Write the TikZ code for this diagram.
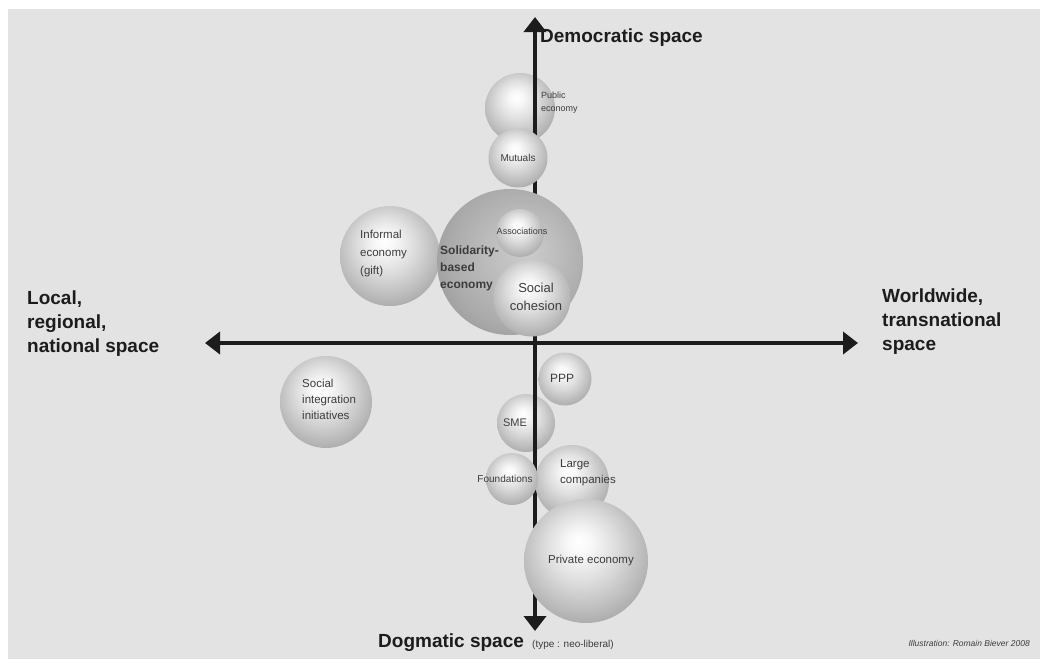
\documentclass[tikz,border=0pt]{standalone}
\usepackage{fontspec}
\setmainfont{Liberation Sans}
\usetikzlibrary{arrows.meta}

% light glossy sphere and the darker sphere for the solidarity-based economy
\pgfdeclareradialshading{orb}{\pgfpoint{-3bp}{8bp}}{%
  rgb(0bp)=(1,1,1); rgb(5bp)=(.97,.97,.97); rgb(14bp)=(.87,.87,.87);
  rgb(24bp)=(.74,.74,.74); rgb(33bp)=(.62,.62,.62); rgb(50bp)=(.60,.60,.60)}
\pgfdeclareradialshading{darkorb}{\pgfpoint{6bp}{4bp}}{%
  rgb(0bp)=(.80,.80,.80); rgb(12bp)=(.74,.74,.74); rgb(24bp)=(.67,.67,.67);
  rgb(32bp)=(.60,.60,.60); rgb(50bp)=(.58,.58,.58)}

\definecolor{panel}{RGB}{227,227,227}
\definecolor{ink}{RGB}{28,28,28}
\definecolor{soft}{RGB}{60,60,60}

\tikzset{
  sphere/.style={circle, inner sep=0pt, shade, shading=orb, minimum size=#1},
  darksphere/.style={circle, inner sep=0pt, shade, shading=darkorb, minimum size=#1},
  axis/.style={line width=4pt, ink, {Triangle[length=15pt,width=22pt]}-{Triangle[length=15pt,width=22pt]}},
  axislabel/.style={font=\bfseries\fontsize{19}{24}\selectfont, text=ink, inner sep=0pt, align=left},
  lbl/.style 2 args={font=\fontsize{#1}{#2}\selectfont, text=soft, inner sep=0pt, align=left},
  blbl/.style 2 args={font=\bfseries\fontsize{#1}{#2}\selectfont, text=soft, inner sep=0pt, align=left},
}

\begin{document}
\begin{tikzpicture}[x=1pt,y=-1pt]
  % page and grey panel
  \fill[white] (0,0) rectangle (1040,659);
  \fill[panel] (8,9) rectangle (1040,659);
  \useasboundingbox (0,0) rectangle (1040,659);

  % spheres lying behind the axes
  \node[sphere=70pt] (pub) at (520,108) {};
  \node[sphere=58pt] (sme) at (526,423) {};

  % axes
  \coordinate (W) at (205,343);
  \coordinate (E) at (858,343);
  \coordinate (N) at (535,17);
  \coordinate (S) at (535,631);
  \draw[axis] (W) -- (E);
  \draw[axis] (S) -- (N);

  % spheres in front of the axes
  \node[sphere=59pt] (mut) at (518,158) {};
  \node[sphere=100pt] (inf) at (390,256) {};
  \node[darksphere=146pt] (sol) at (510,262) {};
  \node[sphere=48pt] (asc) at (520,233) {};
  \node[sphere=77pt] (coh) at (532,298) {};
  \node[sphere=92pt] (sii) at (326,402) {};
  \node[sphere=53pt] (ppp) at (565,379) {};
  \node[sphere=74pt] (lco) at (572,482) {};
  \node[sphere=52pt] (fnd) at (512,479) {};
  \node[sphere=124pt] (prv) at (586,561) {};

  % sphere labels
  \node[lbl={9}{13}, anchor=west] (tpub) at (541,103) {Public\\economy};
  \node[lbl={10}{12}] (tmut) at (518,158) {Mutuals};
  \node[lbl={9}{11}] (tasc) at (522,231) {Associations};
  \node[blbl={12}{17}, anchor=west] (tsol) at (440,268) {Solidarity-\\based\\economy};
  \node[lbl={11.5}{18}, anchor=west] (tinf) at (360,254) {Informal\\economy\\(gift)};
  \node[lbl={13}{18}, align=center] (tcoh) at (536,297) {Social\\cohesion};
  \node[lbl={11.5}{16}, anchor=west] (tsii) at (302,399) {Social\\integration\\initiatives};
  \node[lbl={12}{14}] (tppp) at (562,378) {PPP};
  \node[lbl={11}{13}] (tsme) at (515,423) {SME};
  \node[lbl={10}{12}] (tfnd) at (505,479) {Foundations};
  \node[lbl={11.5}{16}, anchor=west] (tlco) at (560,473) {Large\\companies};
  \node[lbl={11.5}{14}] (tprv) at (591,561) {Private economy};

  % axis labels (base anchors sit on the last line)
  \node[axislabel, anchor=base west] (dem) at (540,42) {Democratic space};
  \node[axislabel, anchor=base west] (dog) at (378,647) {Dogmatic space};
  \node[lbl={10}{12}, anchor=base west] (neo) at (532,647) {(type : neo-liberal)};
  \node[axislabel, anchor=base west] (loc) at (27,352) {Local,\\regional,\\national space};
  \node[axislabel, anchor=base west] (wor) at (882,350) {Worldwide,\\transnational\\space};

  % credit line
  \node[font=\itshape\fontsize{8.5}{10}\selectfont, text=soft, inner sep=0pt, anchor=base east] (cred) at (1030,646) {Illustration: Romain Biever 2008};
\end{tikzpicture}
\end{document}
